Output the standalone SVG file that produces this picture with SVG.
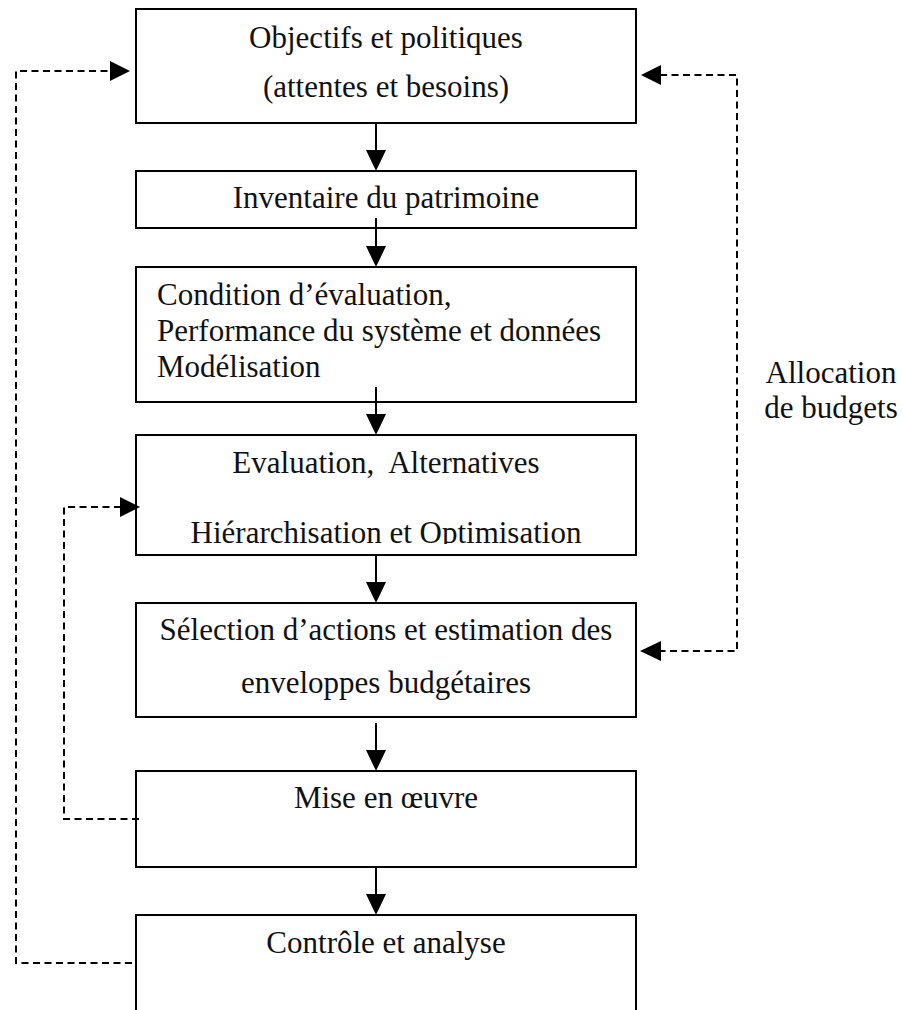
<svg xmlns="http://www.w3.org/2000/svg" width="903" height="1010" viewBox="0 0 903 1010">
  <style>
    .box { fill: #fff; stroke: #000; stroke-width: 2; }
    .lbl { font-family: "Liberation Serif", "Times New Roman", serif; font-size: 31px; fill: #111; }
    .mid { text-anchor: middle; }
    .flow { stroke: #000; stroke-width: 2; fill: none; }
    .loop { stroke: #000; stroke-width: 2; fill: none; stroke-dasharray: 7 4.5; }
    .head { fill: #000; stroke: none; }
  </style>
  <defs>
    <clipPath id="clip-eval">
      <rect x="136" y="435" width="500" height="109"/>
    </clipPath>
  </defs>
  <rect width="903" height="1010" fill="#fff"/>

  <g id="n1">
    <rect class="box" x="136" y="9" width="500" height="114"/>
    <text class="lbl mid" x="386" y="48">Objectifs et politiques</text>
    <text class="lbl mid" x="386" y="97">(attentes et besoins)</text>
  </g>
  <g id="n2">
    <rect class="box" x="136" y="171" width="500" height="57"/>
    <text class="lbl mid" x="386" y="208">Inventaire du patrimoine</text>
  </g>
  <g id="n3">
    <rect class="box" x="136" y="267" width="500" height="135"/>
    <text class="lbl" x="157" y="305">Condition d’évaluation,</text>
    <text class="lbl" x="157" y="341">Performance du système et données</text>
    <text class="lbl" x="157" y="377">Modélisation</text>
  </g>
  <g id="n4">
    <rect class="box" x="136" y="435" width="500" height="120"/>
    <g clip-path="url(#clip-eval)">
      <text class="lbl mid" x="386" y="473" xml:space="preserve">Evaluation,  Alternatives</text>
      <text class="lbl mid" x="386" y="543">Hiérarchisation et Optimisation</text>
    </g>
  </g>
  <g id="n5">
    <rect class="box" x="136" y="603" width="500" height="114"/>
    <text class="lbl mid" x="386" y="640">Sélection d’actions et estimation des</text>
    <text class="lbl mid" x="386" y="693">enveloppes budgétaires</text>
  </g>
  <g id="n6">
    <rect class="box" x="136" y="771" width="500" height="96"/>
    <text class="lbl mid" x="386" y="808">Mise en œuvre</text>
  </g>
  <g id="n7">
    <rect class="box" x="136" y="915" width="500" height="110"/>
    <text class="lbl mid" x="386" y="953">Contrôle et analyse</text>
  </g>
  <g id="budget-label">
    <text class="lbl mid" x="831" y="383">Allocation</text>
    <text class="lbl mid" x="831" y="418">de budgets</text>
  </g>

  <g id="connectors">
    <!-- main downward flow -->
    <line class="flow" x1="376" y1="123" x2="376" y2="152"/>
    <polygon class="head" points="366,150 386,150 376,171"/>
    <line class="flow" x1="376" y1="218" x2="376" y2="248"/>
    <polygon class="head" points="366,246 386,246 376,267"/>
    <line class="flow" x1="376" y1="387" x2="376" y2="416"/>
    <polygon class="head" points="366,414 386,414 376,435"/>
    <line class="flow" x1="376" y1="555" x2="376" y2="584"/>
    <polygon class="head" points="366,582 386,582 376,603"/>
    <line class="flow" x1="376" y1="723" x2="376" y2="752"/>
    <polygon class="head" points="366,750 386,750 376,771"/>
    <line class="flow" x1="376" y1="867" x2="376" y2="896"/>
    <polygon class="head" points="366,894 386,894 376,915"/>

    <!-- control loop back to objectives -->
    <polyline class="loop" points="132,963 16,963 16,71 111,71"/>
    <polygon class="head" points="110,61 110,81 130,71"/>

    <!-- implementation loop back to evaluation -->
    <polyline class="loop" points="139,819 64,819 64,507 121,507"/>
    <polygon class="head" points="120,497 120,517 140,507"/>

    <!-- budget allocation link -->
    <polyline class="loop" points="660,75 737,75 737,651 661,651"/>
    <polygon class="head" points="661,65 661,85 641,75"/>
    <polygon class="head" points="661,641 661,661 640,651"/>
  </g>
</svg>
